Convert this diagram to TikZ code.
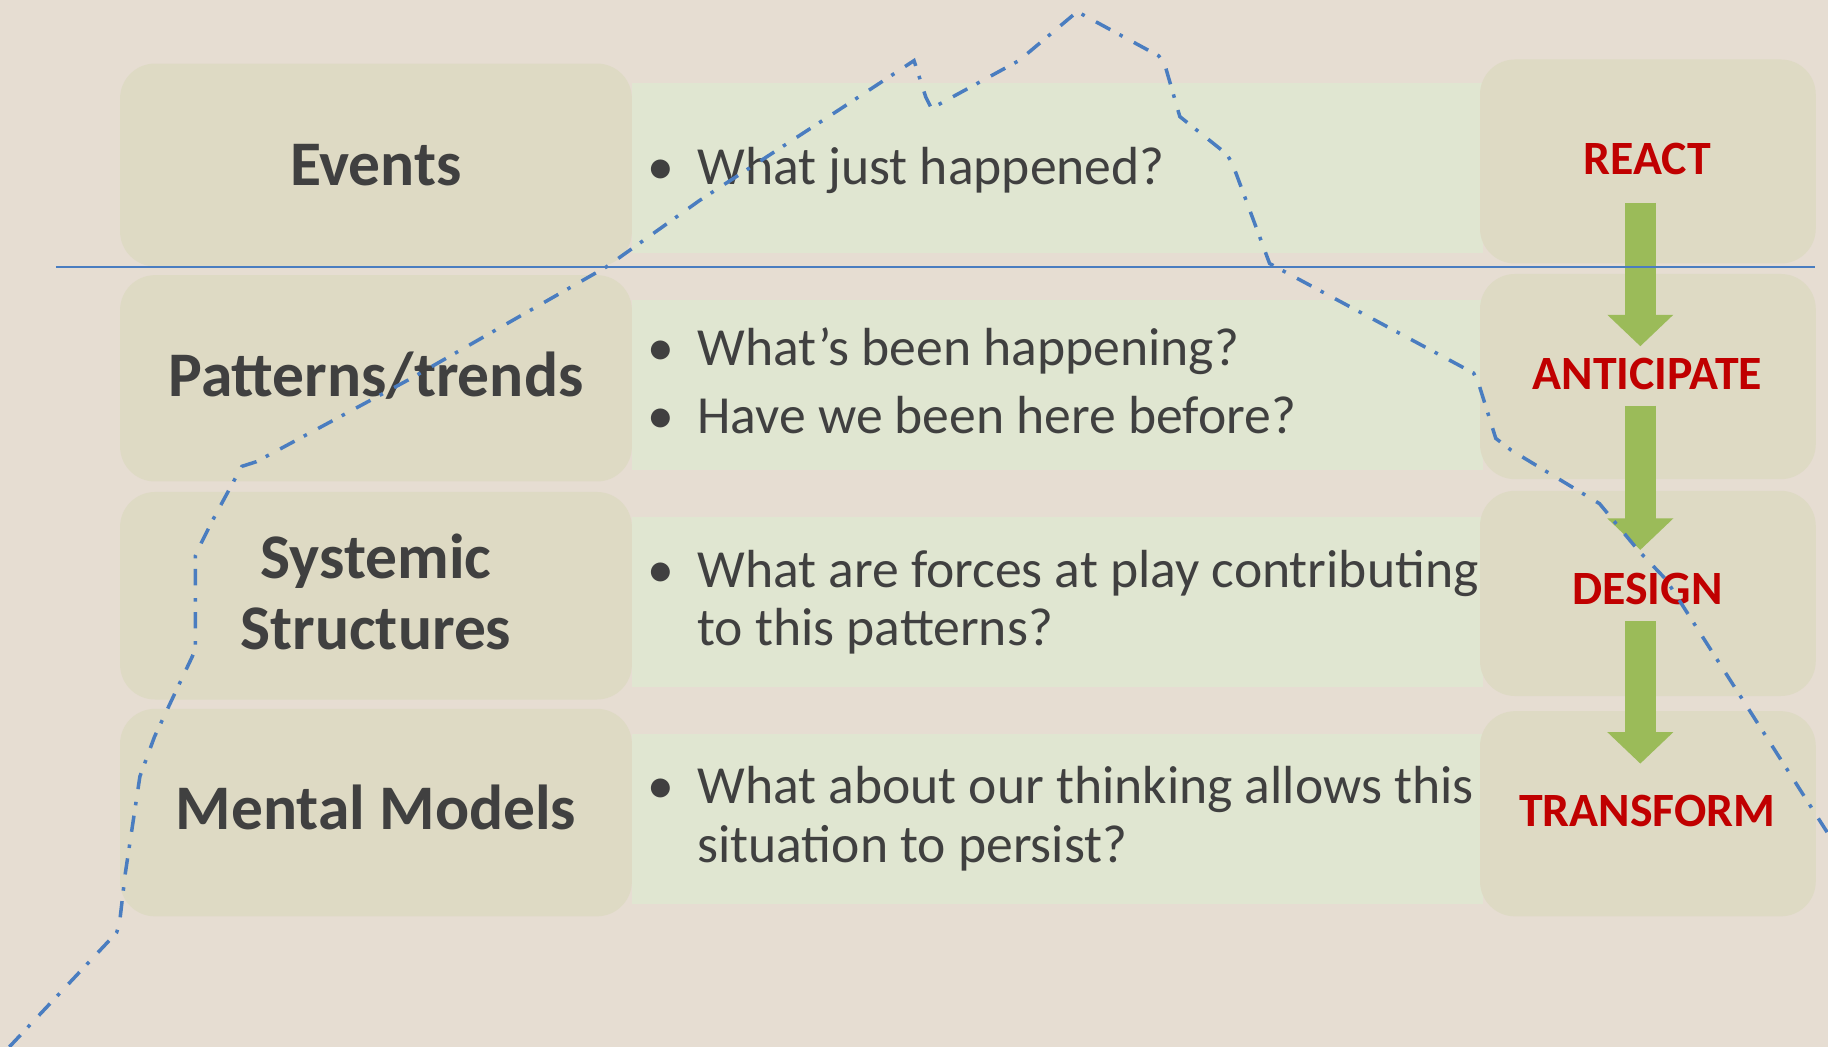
\documentclass[tikz,border=0pt]{standalone}
\usepackage{fontspec}
\setmainfont{Carlito}
\usetikzlibrary{arrows.meta,calc}
\definecolor{bgcol}{HTML}{E6DDD2}
\definecolor{tancol}{HTML}{DEDAC4}
\definecolor{barcol}{HTML}{E0E6D1}
\definecolor{txtcol}{HTML}{404040}
\definecolor{redcol}{HTML}{C00000}
\definecolor{arrcol}{HTML}{9BBB59}
\definecolor{bluecol}{HTML}{4A7DC0}
\tikzset{
  tanbox/.style={fill=tancol, draw=none, rounded corners=30pt, minimum width=439pt, inner sep=0pt},
  rbox/.style={fill=tancol, draw=none, rounded corners=30pt, minimum width=288pt, inner sep=0pt},
  greenbar/.style={fill=barcol, draw=none, minimum width=730pt, minimum height=146pt, inner sep=0pt, anchor=north west},
  lbl/.style={text=txtcol, font=\fontsize{54.5}{64}\bfseries\selectfont, inner sep=0pt, anchor=base},
  qtxt/.style={text=txtcol, font=\fontsize{46}{55}\selectfont, inner sep=0pt, anchor=base west},
  bul/.style={text=txtcol, font=\fontsize{46}{55}\selectfont, inner sep=0pt, anchor=base},
  rlbl/.style={text=redcol, font=\fontsize{41}{49}\bfseries\selectfont, inner sep=0pt, anchor=base},
  bigarrow/.style={draw=arrcol, line width=27pt, -{Triangle[width=55pt,length=27pt]}},
  trend/.style={draw=bluecol, line width=3pt, dash pattern=on 14pt off 9pt on 3pt off 11pt},
  divider/.style={draw=bluecol, line width=2pt}
}
\begin{document}
\begin{tikzpicture}[x=1pt,y=-1pt]
\fill[bgcol] (0,0) rectangle (1568,898);
\useasboundingbox (0,0) rectangle (1568,898);
% green bars
\node[greenbar] (g1) at (542,71) {};
\node[greenbar] (g2) at (542,257) {};
\node[greenbar] (g3) at (542,443) {};
\node[greenbar] (g4) at (542,629) {};
% left boxes
\node[tanbox, minimum height=174pt] (b1) at (322.5,141.5) {};
\node[tanbox, minimum height=177pt] (b2) at (322.5,324.5) {};
\node[tanbox, minimum height=178pt] (b3) at (322.5,511) {};
\node[tanbox, minimum height=178pt] (b4) at (322.5,697) {};
% right boxes
\node[rbox, minimum height=175pt] (r1) at (1413.5,138.5) {};
\node[rbox, minimum height=176pt] (r2) at (1413.5,323) {};
\node[rbox, minimum height=176pt] (r3) at (1413.5,509) {};
\node[rbox, minimum height=176pt] (r4) at (1413.5,698) {};
% left labels
\node[lbl] (t1) at (322.5,158.7) {Events};
\node[lbl] (t2) at (322.5,339.7) {Patterns/trends};
\node[lbl] (t3a) at (322.5,495.8) {Systemic};
\node[lbl] (t3b) at (322.5,556.7) {Structures};
\node[lbl] (t4) at (322.5,711.7) {Mental Models};
% bullets and questions
\node[bul] (d1) at (567,158) {•};
\node[qtxt] (q1) at (598,158) {What just happened?};
\node[bul] (d2a) at (567,313.7) {•};
\node[qtxt] (q2a) at (598,313.7) {What’s been happening?};
\node[bul] (d2b) at (567,371.7) {•};
\node[qtxt] (q2b) at (598,371.7) {Have we been here before?};
\node[bul] (d3) at (567,503.5) {•};
\node[qtxt] (q3a) at (598,503.5) {What are forces at play contributing};
\node[qtxt] (q3b) at (598,553.8) {to this patterns?};
\node[bul] (d4) at (567,689.4) {•};
\node[qtxt] (q4a) at (598,689.4) {What about our thinking allows this};
\node[qtxt] (q4b) at (598,739.7) {situation to persist?};
% right labels
\node[rlbl] (s1) at (1413,149.6) {REACT};
\node[rlbl] (s2) at (1413,334) {ANTICIPATE};
\node[rlbl] (s3) at (1413,518.7) {DESIGN};
\node[rlbl] (s4) at (1413,708.8) {TRANSFORM};
% arrows
\draw[bigarrow] ($(s1.base)+(-6,24.4)$) -- ($(s2.base)+(-6,-37)$);
\draw[bigarrow] ($(s2.base)+(-6,14)$) -- ($(s3.base)+(-6,-47)$);
\draw[bigarrow] ($(s3.base)+(-6,14.3)$) -- ($(s4.base)+(-6,-53.8)$);
% divider
\coordinate (hl) at (48,229);
\coordinate (hr) at (1557,229);
\draw[divider] (hl) -- (hr);
% trend line
\draw[trend] (8,898) -- (100,800) -- (102.5,792) -- (107.5,749) -- (120,666) -- (132.5,632) -- (147.5,600)
  -- (165,563) -- (167.5,557) -- (167.5,477) -- (172.5,466) -- (182.5,446) -- (202.5,409) -- (207.5,400)
  -- (220,396) -- (350,326) -- (520,229) -- (600,172) -- (720,94) -- (784,52) -- (794,83) -- (799,93)
  -- (874,52) -- (924,10) -- (994,48) -- (999,55) -- (1012,100) -- (1052,132) -- (1057,140) -- (1089,226)
  -- (1100,232) -- (1264,320) -- (1268,328) -- (1283,376) -- (1296,386) -- (1372,432) -- (1406,473)
  -- (1429,497) -- (1568,715);
\end{tikzpicture}
\end{document}
